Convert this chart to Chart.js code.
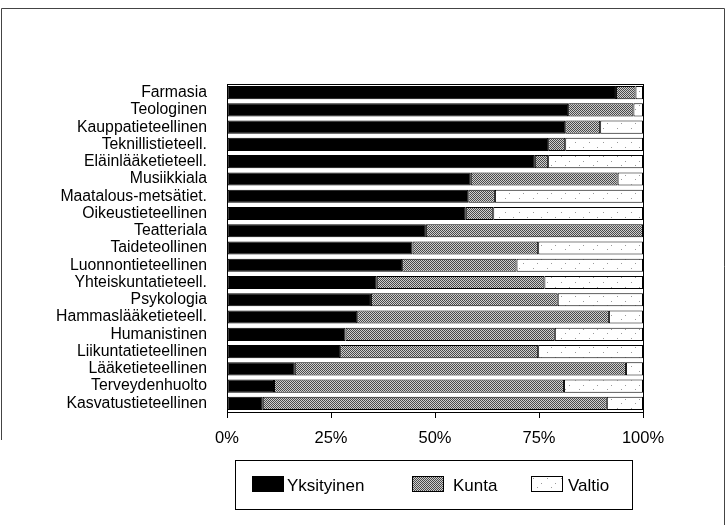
<!DOCTYPE html>
<html>
<head>
<meta charset="utf-8">
<script src="https://cdn.jsdelivr.net/npm/chart.js@4"></script>
<style>
  html, body { margin: 0; padding: 0; background: #fff; }
  #wrap { width: 726px; height: 525px; }
</style>
</head>
<body>
<div id="wrap"><canvas id="chart" width="726" height="525"></canvas></div>
<script>
const categories = [
  'Farmasia', 'Teologinen', 'Kauppatieteellinen', 'Teknillistieteell.',
  'Eläinlääketieteell.', 'Musiikkiala', 'Maatalous-metsätiet.', 'Oikeustieteellinen',
  'Teatteriala', 'Taideteollinen', 'Luonnontieteellinen', 'Yhteiskuntatieteell.',
  'Psykologia', 'Hammaslääketieteell.', 'Humanistinen', 'Liikuntatieteellinen',
  'Lääketieteellinen', 'Terveydenhuolto', 'Kasvatustieteellinen'
];
const seriesNames = ['Yksityinen', 'Kunta', 'Valtio'];
const yksityinen = [93.5, 82, 81.3, 77.2, 74, 58.6, 58, 57.4, 47.8, 44.6, 42.1, 36, 34.6, 31.3, 28.5, 27.2, 16.3, 11.3, 8.6];
const kunta = [4.7, 15.7, 8.4, 4.1, 3.2, 35.3, 6.4, 6.6, 52.2, 30.2, 27.5, 40.3, 44.9, 60.5, 50.3, 47.6, 79.6, 69.7, 82.7];
const valtio = [1.8, 2.3, 10.3, 18.7, 22.8, 6.1, 35.6, 36, 0, 25.2, 30.4, 23.7, 20.5, 8.2, 21.2, 25.2, 4.1, 19, 8.7];
const xTicks = [0, 25, 50, 75, 100];

const FONT = "'Liberation Sans', Arial, Helvetica, sans-serif";

// small bitmap patterns like the old print shading
function makePattern(bg, dot, cells, size) {
  const c = document.createElement('canvas');
  c.width = size; c.height = size;
  const g = c.getContext('2d');
  g.fillStyle = bg;
  g.fillRect(0, 0, size, size);
  g.fillStyle = dot;
  cells.forEach(p => g.fillRect(p[0], p[1], 1, 1));
  return g.createPattern(c, 'repeat');
}

const greyFill = makePattern('#cfcfcf', '#4a4a4a', [[0, 0], [1, 1]], 2);
const lightFill = makePattern('#ffffff', '#9a9a9a', [[1, 2], [9, 7], [5, 11]], 14);
const fills = ['#000000', greyFill, lightFill];

const framePlugin = {
  id: 'frame',
  afterDraw(chart) {
    const ctx = chart.ctx;
    const a = chart.chartArea;
    ctx.save();
    // outer frame of the figure
    ctx.strokeStyle = '#444';
    ctx.lineWidth = 1;
    ctx.beginPath();
    ctx.moveTo(1.5, 440);
    ctx.lineTo(1.5, 8.5);
    ctx.lineTo(724.5, 8.5);
    ctx.lineTo(724.5, 525);
    ctx.stroke();
    // plot box
    ctx.strokeStyle = '#000';
    ctx.strokeRect(Math.round(a.left) + 0.5, Math.round(a.top) + 0.5,
      Math.round(a.right - a.left), Math.round(a.bottom - a.top));
    // legend box
    ctx.strokeRect(235.5, 460.5, 397, 49);
    const items = [[252, 287], [412, 453], [531, 568]];
    ctx.font = '17px ' + FONT;
    ctx.textBaseline = 'middle';
    chart.data.datasets.forEach((ds, i) => {
      const [sx, tx] = items[i];
      ctx.fillStyle = ds.backgroundColor;
      ctx.fillRect(sx, 476, 32, 16);
      ctx.strokeStyle = '#000';
      ctx.strokeRect(sx + 0.5, 476.5, 31, 15);
      ctx.fillStyle = '#000';
      ctx.fillText(ds.label, tx, 486);
    });
    ctx.restore();
  }
};

new Chart(document.getElementById('chart'), {
  type: 'bar',
  data: {
    labels: categories,
    datasets: [
      { label: seriesNames[0], data: yksityinen, backgroundColor: fills[0] },
      { label: seriesNames[1], data: kunta, backgroundColor: fills[1] },
      { label: seriesNames[2], data: valtio, backgroundColor: fills[2] }
    ].map(ds => Object.assign(ds, {
      borderColor: '#000',
      borderWidth: 1,
      borderSkipped: false,
      barPercentage: 0.76,
      categoryPercentage: 1
    }))
  },
  options: {
    indexAxis: 'y',
    responsive: false,
    animation: false,
    layout: { padding: { top: 84, right: 83, left: 0, bottom: 0 } },
    plugins: {
      legend: { display: false },
      tooltip: { enabled: false }
    },
    scales: {
      x: {
        stacked: true,
        min: 0,
        max: 100,
        afterBuildTicks: s => { s.ticks = xTicks.map(v => ({ value: v })); },
        afterFit: s => { s.height = 113; },
        grid: { drawOnChartArea: false, drawTicks: true, tickLength: 6, color: '#000' },
        border: { display: true, color: '#000' },
        ticks: {
          padding: 11,
          color: '#000',
          font: { family: FONT, size: 16.5 },
          callback: v => v + '%'
        }
      },
      y: {
        stacked: true,
        afterFit: s => { s.width = 227; },
        grid: { display: false, drawTicks: false },
        border: { display: true, color: '#000' },
        ticks: {
          padding: 20,
          color: '#000',
          font: { family: FONT, size: 15.8 },
          autoSkip: false
        }
      }
    }
  },
  plugins: [framePlugin]
});
</script>
</body>
</html>
